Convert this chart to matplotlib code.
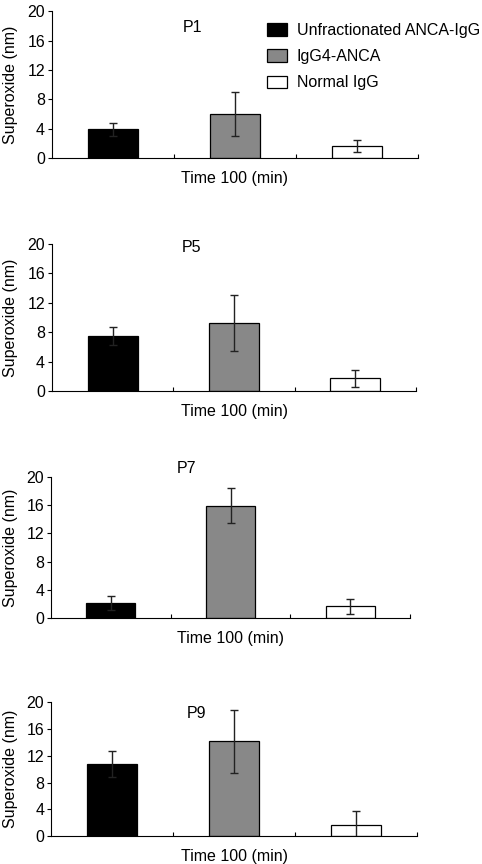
import matplotlib
matplotlib.use("Agg")
import matplotlib.pyplot as plt

plt.rcParams["font.family"] = ["Liberation Sans", "DejaVu Sans"]
plt.rcParams["font.size"] = 11.5

# Data
groups = ["Unfractionated ANCA-IgG", "IgG4-ANCA", "Normal IgG"]
bar_colors = ["#000000", "#888888", "#ffffff"]
panels = ["P1", "P5", "P7", "P9"]

p1_mean = [3.9, 6.0, 1.6]
p1_err = [0.9, 3.0, 0.8]
p5_mean = [7.5, 9.3, 1.7]
p5_err = [1.2, 3.8, 1.2]
p7_mean = [2.1, 15.9, 1.7]
p7_err = [1.0, 2.5, 1.05]
p9_mean = [10.8, 14.2, 1.65]
p9_err = [1.9, 4.7, 2.15]

means = [p1_mean, p5_mean, p7_mean, p9_mean]
errs = [p1_err, p5_err, p7_err, p9_err]

y_ticks = [0, 4, 8, 12, 16, 20]

# axes rectangles (left, bottom, width, height) in figure fractions
rects = [
    (0.108, 0.817, 0.759, 0.170),
    (0.108, 0.5475, 0.755, 0.170),
    (0.106, 0.2844, 0.745, 0.164),
    (0.106, 0.0324, 0.759, 0.1547),
]
# panel label positions in data coords
label_pos = [(1.65, 17.8), (1.65, 19.5), (1.63, 21.2), (1.69, 18.3)]

fig = plt.figure(figsize=(4.82, 8.64), dpi=100)

for i, name in enumerate(panels):
    ax = fig.add_axes(rects[i])
    x = [1, 2, 3]
    bars = ax.bar(x, means[i], width=0.41, color=bar_colors,
                  edgecolor="black", linewidth=0.9, zorder=2)
    ax.errorbar(x, means[i], yerr=errs[i], fmt="none", ecolor="#222222",
                elinewidth=1.0, capsize=2.8, capthick=1.0, zorder=3)

    ax.set_xlim(0.5, 3.5)
    ax.set_ylim(0, 20)
    ax.set_yticks(y_ticks)
    ax.set_xticks([1.5, 2.5, 3.5])
    ax.set_xticklabels([])
    ax.tick_params(axis="x", direction="in", length=3, width=0.8)
    ax.tick_params(axis="y", direction="out", length=3, width=0.8,
                   labelsize=11.5, pad=2)
    for side in ["top", "right"]:
        ax.spines[side].set_visible(False)
    for side in ["left", "bottom"]:
        ax.spines[side].set_linewidth(0.8)

    ax.set_ylabel("Superoxide (nm)", fontsize=11.5)
    ax.yaxis.set_label_coords((18 / 482 - rects[i][0]) / rects[i][2], 0.5)
    ax.set_xlabel("Time 100 (min)", fontsize=11.5, labelpad=6)
    ax.text(label_pos[i][0], label_pos[i][1], name, fontsize=11.5,
            ha="center", va="center", clip_on=False)

    if i == 0:
        ax.legend(bars, groups, loc="upper left", bbox_to_anchor=(0.587, 0.92),
                  frameon=False, fontsize=11.5, borderpad=0, borderaxespad=0,
                  handlelength=1.25, handleheight=0.82, handletextpad=0.62,
                  labelspacing=0.7)

fig.savefig("out.png", dpi=100)
